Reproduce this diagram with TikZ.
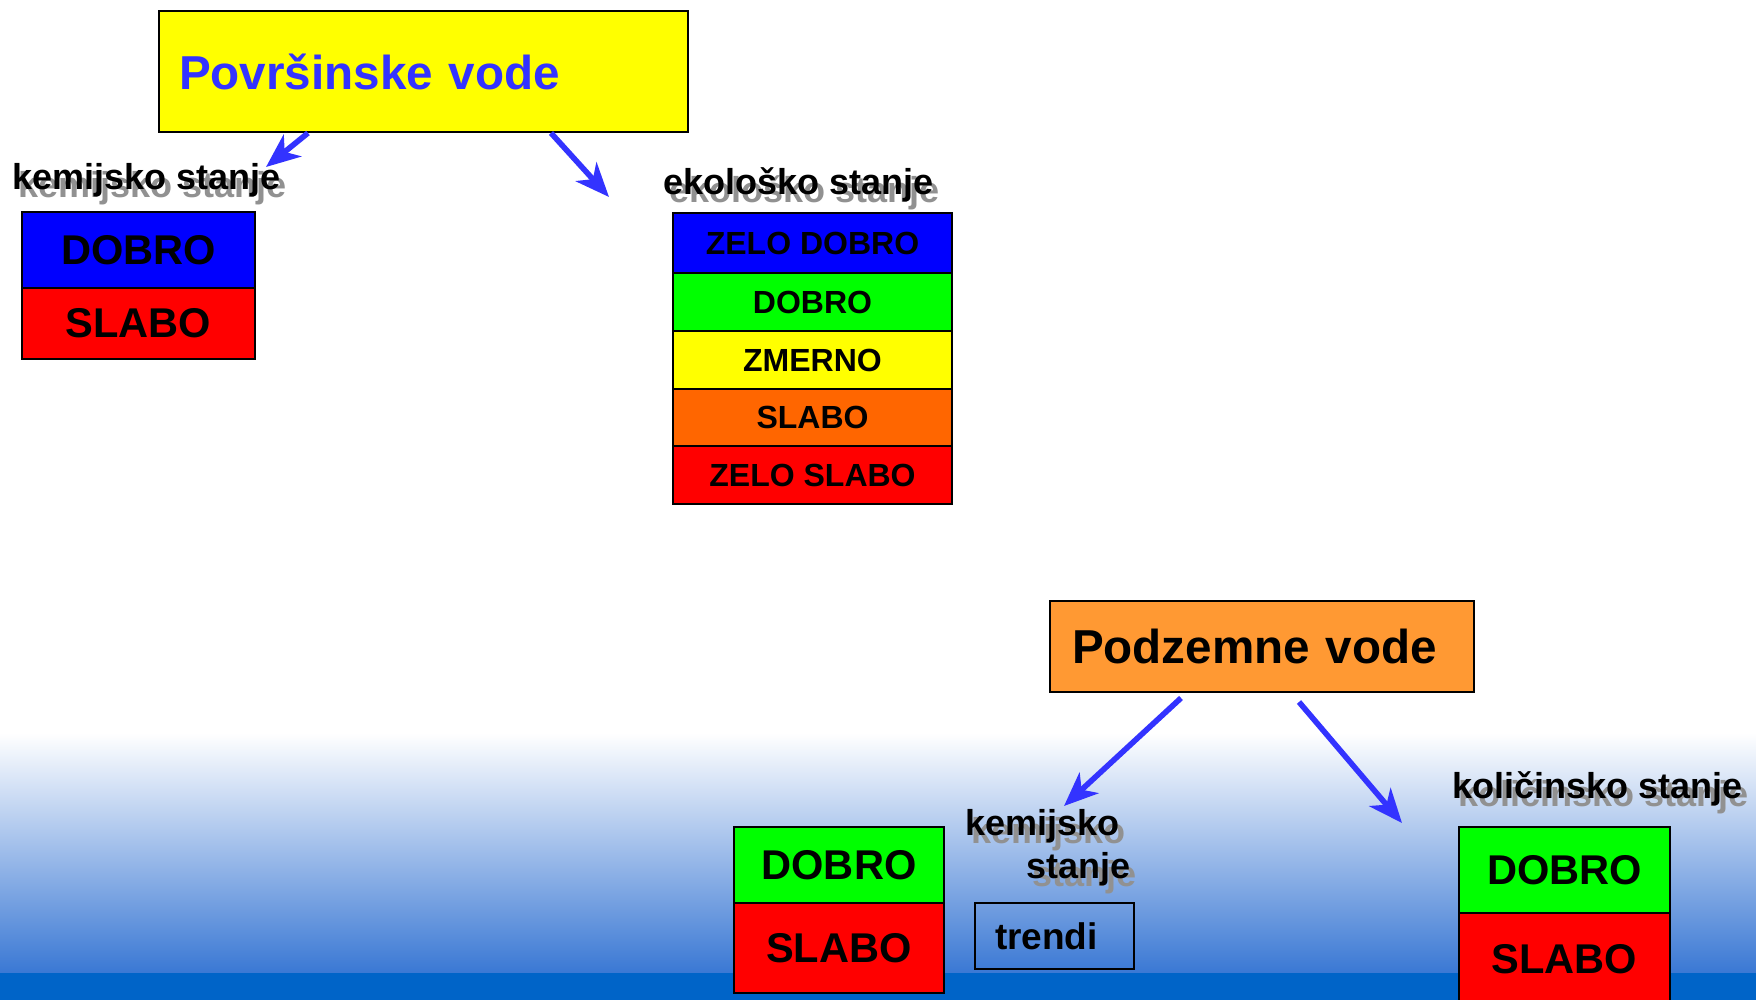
\documentclass[tikz,border=0pt]{standalone}
\usepackage{fontspec}
\setmainfont{Liberation Sans}
\usetikzlibrary{arrows.meta}
\definecolor{pvyellow}{RGB}{255,255,0}
\definecolor{pvblue}{RGB}{51,51,255}
\definecolor{arrowblue}{RGB}{51,51,255}
\definecolor{cellblue}{RGB}{0,0,255}
\definecolor{cellred}{RGB}{255,0,0}
\definecolor{cellgreen}{RGB}{0,255,0}
\definecolor{cellyellow}{RGB}{255,255,0}
\definecolor{cellorange}{RGB}{255,102,0}
\definecolor{pzorange}{RGB}{255,153,51}
\definecolor{shadowgray}{RGB}{145,145,145}
\definecolor{gradmid}{RGB}{168,178,226}
\definecolor{gradbot}{RGB}{58,120,212}
\definecolor{bandblue}{RGB}{0,100,200}
\newcommand\shtext[1]{\rlap{\hspace{3pt}\raisebox{-4pt}{\textcolor{shadowgray}{#1}}}#1}
\begin{document}
\begin{tikzpicture}[x=0.5pt,y=-0.5pt,
  cell/.style={draw=black, line width=1pt, inner sep=0pt, text=black},
  bigcell/.style={cell, font=\fontsize{20.8pt}{24pt}\selectfont\bfseries},
  ecocell/.style={cell, minimum width=139.5pt, font=\fontsize{16pt}{19pt}\selectfont\bfseries},
  lbl/.style={inner sep=0pt, anchor=base west, font=\fontsize{18pt}{21pt}\selectfont\bfseries},
  arr/.style={draw=arrowblue, line width=2.8pt, -{Stealth[length=17pt,width=14pt,inset=5pt]}}]
\useasboundingbox (0,0) rectangle (1756,1000);
% background
\fill[white] (0,0) rectangle (1756,1000);
\shade[top color=white, middle color=gradmid, bottom color=gradbot] (0,733) rectangle (1756,973);
\fill[bandblue] (0,973) rectangle (1756,1000);

% Povrsinske vode
\node[cell, fill=pvyellow, minimum width=264.5pt, minimum height=60.5pt,
  text width=244.5pt, inner xsep=10pt, align=left, text=pvblue,
  font=\fontsize{23.8pt}{28pt}\selectfont\bfseries] (pv) at (423.5,71.5) {Površinske vode};

% kemijsko stanje (surface)
\node[lbl] (l1) at (12,190) {\shtext{kemijsko stanje}};
\node[bigcell, fill=cellblue, minimum width=116.5pt, minimum height=38pt] (kd) at (138.5,250) {DOBRO};
\node[bigcell, fill=cellred, minimum width=116.5pt, minimum height=35.5pt] (ks) at (138.5,323.5) {SLABO};

% ekolosko stanje
\node[lbl] (l2) at (663,195) {\shtext{ekološko stanje}};
\node[ecocell, fill=cellblue, minimum height=30pt] (e1) at (812.5,243) {ZELO DOBRO};
\node[ecocell, fill=cellgreen, minimum height=29pt] (e2) at (812.5,302) {DOBRO};
\node[ecocell, fill=cellyellow, minimum height=29pt] (e3) at (812.5,360) {ZMERNO};
\node[ecocell, fill=cellorange, minimum height=28.5pt] (e4) at (812.5,417.5) {SLABO};
\node[ecocell, fill=cellred, minimum height=29pt] (e5) at (812.5,475) {ZELO SLABO};

% Podzemne vode
\node[cell, fill=pzorange, minimum width=212pt, minimum height=45.5pt,
  text width=190pt, inner xsep=11pt, align=left,
  font=\fontsize{23.8pt}{28pt}\selectfont\bfseries] (pz) at (1262,646.5) {Podzemne vode};

% kemijsko stanje (ground)
\node[bigcell, fill=cellgreen, minimum width=105pt, minimum height=38pt] (gd) at (839,865) {DOBRO};
\node[bigcell, fill=cellred, minimum width=105pt, minimum height=45pt] (gs) at (839,948) {SLABO};
\node[lbl] (l3) at (965,835) {\shtext{kemijsko}};
\node[lbl] (l4) at (1026,878) {\shtext{stanje}};
\node[cell, line width=0.8pt, minimum width=79.5pt, minimum height=33pt,
  text width=59.5pt, inner xsep=10pt, align=left,
  font=\fontsize{18.5pt}{22pt}\selectfont\bfseries] (tr) at (1054.5,936) {trendi};

% kolicinsko stanje
\node[lbl] (l5) at (1452,798) {\shtext{količinsko stanje}};
\node[bigcell, fill=cellgreen, minimum width=105.5pt, minimum height=43pt] (qd) at (1564.5,870) {DOBRO};
\node[bigcell, fill=cellred, minimum width=105.5pt, minimum height=46pt] (qs) at (1564.5,959) {SLABO};

% arrows
\coordinate (a1s) at (308,133);
\coordinate (a1e) at (266,167);
\coordinate (a2s) at (551,133);
\coordinate (a2e) at (609,197);
\coordinate (a3s) at (1181,698);
\coordinate (a3e) at (1064,806);
\coordinate (a4s) at (1299,702);
\coordinate (a4e) at (1402,823);
\draw[arr] (a1s) -- (a1e);
\draw[arr] (a2s) -- (a2e);
\draw[arr] (a3s) -- (a3e);
\draw[arr] (a4s) -- (a4e);
\end{tikzpicture}
\end{document}
